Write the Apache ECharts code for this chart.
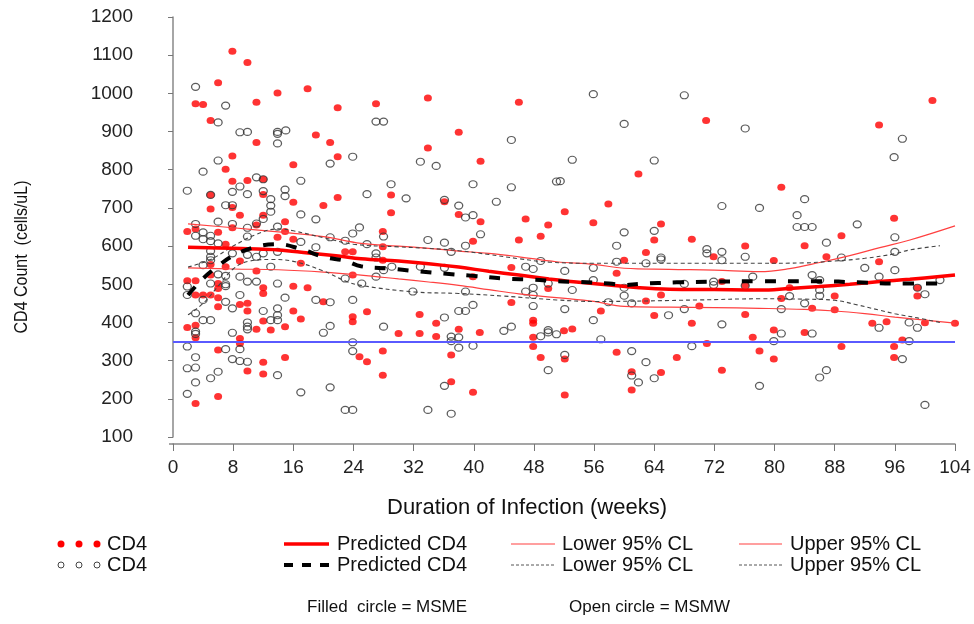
<!DOCTYPE html>
<html>
<head>
<meta charset="utf-8">
<script src="https://cdn.jsdelivr.net/npm/echarts@6/dist/echarts.min.js"></script>
<style>
html, body { margin: 0; padding: 0; background: #fff; }
#chart { width: 974px; height: 624px; }
</style>
</head>
<body>
<div id="chart"></div>
<script>
var xTicks = [0, 8, 16, 24, 32, 40, 48, 56, 64, 72, 80, 88, 96, 104];
var yTicks = [100, 200, 300, 400, 500, 600, 700, 800, 900, 1000, 1100, 1200];
var cutoff = 350;

// filled circles: MSME [week, CD4]
var msmePoints = [
    [7.9,1110],[9.9,1081],[6.0,1028],[13.9,1001],[17.9,1012],[3.0,973],[4.0,971],[11.1,977],[21.9,962],[5.0,929],
    [11.1,871],[19.0,891],[20.9,871],[21.9,834],[7.9,836],[7.0,801],[16.0,813],[7.9,770],[9.9,772],[12.0,775],
    [5.0,734],[12.0,735],[16.0,715],[21.9,727],[5.0,697],[7.9,701],[8.9,681],[12.0,681],[20.0,706],[14.9,664],[11.1,655],
    [1.9,638],[3.0,645],[6.0,636],[7.9,648],[14.9,638],[13.9,623],[16.0,618],[7.0,605],[8.9,561],[5.0,552],[7.0,546],
    [11.1,535],[17.0,555],[22.9,585],[23.9,585],[23.9,524],[1.9,509],[3.0,509],[5.0,524],[6.0,502],[6.0,489],[12.0,491],
    [12.0,476],[16.0,495],[17.9,491],[3.0,472],[4.0,472],[5.0,472],[6.0,465],[6.0,441],[8.9,447],[9.9,450],[9.9,430],
    [20.0,454],[16.0,430],[17.0,409],[23.9,415],[23.9,402],[12.0,404],[1.9,387],[3.0,393],[3.0,360],[11.1,382],[13.0,380],
    [14.9,389],[8.9,358],[8.9,345],[6.0,328],[14.9,308],[12.0,296],[9.9,273],[12.0,265],[6.0,206],[3.0,188],
    [27.0,973],[33.9,988],[46.0,977],[38.0,898],[33.9,857],[40.9,822],[29.0,734],[29.0,687],[36.1,716],[38.0,683],
    [40.9,664],[46.9,671],[49.9,655],
    [27.9,638],[27.9,598],[27.9,563],[39.9,613],[46.0,616],[48.9,626],[45.0,544],[39.9,520],[49.9,489],[45.0,452],
    [25.8,428],[32.8,421],[35.0,398],[38.0,382],[40.8,374],[32.8,371],[30.0,371],[35.0,363],[47.9,406],[47.9,398],
    [47.9,361],[47.9,337],[48.9,308],[24.8,310],[25.8,297],[27.9,325],[27.9,262],[37.0,315],[37.0,245],[39.9,217],
    [70.9,929],[61.9,789],[57.9,710],[52.1,690],[55.9,661],[64.9,658],
    [64.0,616],[69.0,618],[76.1,600],[62.9,583],[60.0,563],[71.9,572],[59.0,529],[64.9,472],[62.9,456],[70.0,443],
    [56.9,430],[64.0,418],[76.1,421],[69.0,398],[52.0,378],[53.1,383],[77.1,361],[71.0,345],[78.0,325],[52.1,304],
    [59.0,322],[67.0,308],[64.9,269],[61.0,271],[61.0,223],[73.0,275],[52.1,210],[76.1,498],[73.0,507],
    [101.0,981],[93.9,917],[80.9,754],[95.9,673],
    [88.9,627],[84.0,601],[86.9,572],[79.9,562],[93.9,559],[82.0,491],[80.9,463],[88.0,469],[85.0,437],[88.0,433],
    [99.0,469],[99.0,491],[93.0,398],[94.9,402],[100.0,399],[104.0,398],[79.9,380],[84.0,374],[97.0,354],[95.9,337],
    [88.9,337],[79.9,304],[95.9,308]
];

// open circles: MSMW [week, CD4]
var msmwPoints = [
    [3.0,1017],[7.0,968],[6.0,924],[8.9,898],[9.9,899],[13.9,899],[13.9,894],[15.0,903],[13.9,869],[6.0,824],
    [4.0,795],[20.9,816],[23.9,834],[11.1,780],[12.0,775],[17.0,771],[1.9,745],[5.0,734],[7.9,742],[8.9,756],
    [9.9,736],[12.0,744],[14.9,748],[14.9,731],[13.0,723],[13.0,706],[13.0,690],[7.0,707],[7.9,707],[17.0,683],
    [19.0,670],[3.0,658],[6.0,664],[7.9,658],[11.1,659],[12.0,671],[9.9,648],[13.9,651],[24.8,649],
    [3.0,627],[4.0,636],[4.0,618],[5.0,627],[5.0,613],[6.0,607],[9.9,625],[17.0,611],[20.9,623],[19.0,597],
    [22.9,614],[23.9,633],[5.0,587],[5.0,572],[5.0,563],[7.9,581],[9.9,577],[11.1,572],[12.0,581],[13.9,585],
    [4.0,550],[6.0,526],[7.0,522],[8.9,520],[13.0,546],[5.0,502],[7.0,495],[7.0,500],[9.9,507],[11.1,507],
    [13.9,502],[1.9,494],[1.9,472],[8.9,472],[4.0,459],[7.0,454],[7.9,437],[14.9,465],[19.0,459],[20.9,453],
    [22.9,515],[23.9,459],[3.0,424],[4.0,406],[5.0,406],[9.9,400],[9.9,389],[9.9,382],[12.0,430],[13.0,406],
    [13.9,437],[13.9,419],[13.9,406],[20.9,391],[20.0,373],[3.0,376],[3.0,370],[7.9,373],[1.9,337],[23.9,348],
    [23.9,325],[7.0,330],[8.9,330],[3.0,309],[1.9,280],[3.0,282],[7.9,304],[8.9,299],[9.9,297],[6.0,271],
    [5.0,254],[3.0,243],[13.9,262],[20.9,230],[17.0,217],[1.9,213],[22.9,171],[23.9,171],
    [27.0,926],[28.0,926],[45.0,878],[32.9,821],[35.0,810],[29.0,762],[25.8,736],[31.0,725],[36.1,721],[39.9,762],
    [45.0,754],[51.0,769],[38.0,706],[38.9,675],[39.9,681],[43.0,716],
    [25.8,605],[27.0,581],[27.0,570],[28.0,625],[28.0,537],[27.0,520],[29.1,546],[25.1,502],[33.9,616],[36.1,609],
    [37.0,585],[38.9,601],[40.9,631],[32.9,546],[36.1,543],[31.9,481],[38.9,481],[39.9,446],[38.0,430],[38.9,430],
    [36.1,413],[28.0,389],[37.0,363],[37.0,351],[38.0,361],[38.0,334],[39.9,339],[44.0,378],[45.0,389],[46.9,546],
    [47.9,540],[47.9,491],[47.9,472],[46.9,481],[48.9,561],[49.9,502],[47.9,443],[48.9,364],[49.9,380],[49.9,374],
    [51.0,369],[49.9,275],[36.1,234],[33.9,171],[37.0,161],
    [55.9,998],[68.0,995],[60.0,920],[76.1,908],[53.1,826],[64.0,824],[73.0,705],[78.0,700],[51.5,770],
    [60.0,636],[64.0,640],[59.0,601],[71.0,592],[71.0,581],[73.0,585],[73.0,563],[76.1,572],[64.9,570],[64.9,565],
    [62.9,555],[59.0,559],[55.9,543],[52.1,535],[55.9,511],[68.0,501],[71.9,507],[71.9,498],[77.1,520],[76.1,496],
    [53.1,485],[60.0,491],[60.0,470],[57.9,453],[61.0,450],[52.1,435],[65.9,419],[68.0,435],[73.0,395],[55.9,406],
    [56.9,356],[69.0,338],[52.1,315],[61.0,325],[62.9,296],[61.0,261],[61.9,243],[64.0,254],[78.0,234],
    [97.0,881],[95.9,833],[84.0,723],[83.0,681],[91.0,657],[83.0,650],[84.0,650],[85.0,650],
    [96.0,623],[86.9,609],[96.0,585],[88.9,570],[92.0,543],[96.0,537],[85.0,524],[93.9,520],[86.0,511],[86.0,485],
    [86.0,470],[82.0,469],[84.0,450],[80.9,435],[99.0,491],[100.0,474],[102.0,511],[97.9,400],[99.0,386],[93.9,386],
    [80.9,371],[85.0,371],[79.9,351],[97.9,351],[97.0,304],[86.9,275],[86.0,256],[100.0,184]
];

// fitted curves
var msmePred = [[2,597],[6,595],[10,593],[14,590],[18,582],[22,574],[25,567],[30,561],[34,554],[38,545],[42,534],
    [46,524],[50,514],[54,505],[58,498],[62,491],[66,487],[72,486],[78,485],[82,489],[86,494],[90,500],[94,507],[98,513],[104,524]];
var msmeUpper = [[2,658],[8,648],[14,637],[20,625],[25,607],[30,600],[34,594],[38,587],[42,581],[46,572],[51,559],
    [56,552],[60,542],[66,539],[72,537],[78,533],[82,541],[86,557],[90,575],[94,596],[98,616],[104,653]];
var msmeLower = [[2,543],[8,540],[14,538],[20,532],[25,524],[30,514],[34,506],[38,497],[42,486],[46,475],[51,465],
    [56,455],[60,442],[66,440],[72,439],[78,437],[84,434],[88,430],[92,423],[96,414],[100,406],[104,398]];
var msmwPred = [[2,472],[4,515],[6,548],[8,575],[11,598],[14,605],[17,592],[20,572],[23,561],[25,547],[29,541],
    [32,535],[36,528],[40,522],[44,515],[48,512],[51,508],[54,506],[58,502],[60,498],[62,501],[67,505],[72,507],
    [78,508],[86,508],[91,505],[96,502],[102,502]];
var msmwUpper = [[2,545],[5,565],[8,600],[11,630],[14,645],[16,640],[20,622],[24,605],[30,598],[34,594],[38,588],
    [42,578],[46,567],[50,558],[56,555],[70,555],[78,555],[84,556],[88,561],[92,568],[96,580],[98,590],[102,601]];
var msmwLower = [[2,420],[4,450],[6,495],[8,540],[10,560],[13,565],[16,560],[20,535],[23,508],[25,497],[32,480],
    [38,476],[44,469],[51,459],[56,455],[70,459],[78,462],[84,461],[88,458],[91,446],[94,432],[96,423],[99,412],[102,400]];

var FONT = "Liberation Sans, Arial, sans-serif";
var chart = echarts.init(document.getElementById("chart"));

function curve(data, color, width, dash) {
    return {
        type: "line",
        data: data,
        smooth: 0.4,
        showSymbol: false,
        silent: true,
        lineStyle: { color: color, width: width, type: dash || "solid" },
        z: 5
    };
}

var L1 = 544, L2 = 565;
function legText(x, y, txt, size) {
    return { type: "text", style: { text: txt, x: x, y: y, font: (size || 20) + "px " + FONT, fill: "#111",
        textAlign: "left", textVerticalAlign: "middle", verticalAlign: "middle" } };
}
function legLine(x1, x2, y, color, w, dash) {
    return { type: "line", shape: { x1: x1, y1: y, x2: x2, y2: y },
        style: { stroke: color, lineWidth: w, lineDash: dash || null } };
}
function plain(v) { return String(v); }

chart.setOption({
    animation: false,
    grid: { left: 173, right: 19, top: 17, bottom: 187 },
    xAxis: {
        type: "value",
        min: xTicks[0],
        max: xTicks[xTicks.length - 1],
        interval: 8,
        offset: 7,
        axisLine: { show: true, lineStyle: { color: "#888", width: 1.5 } },
        axisTick: { show: true, length: 7, lineStyle: { color: "#777" } },
        axisLabel: { fontSize: 19, fontFamily: FONT, color: "#222", margin: 14, formatter: plain },
        splitLine: { show: false }
    },
    yAxis: {
        type: "value",
        min: yTicks[0],
        max: yTicks[yTicks.length - 1],
        interval: 100,
        offset: 3,
        axisLine: { show: true, lineStyle: { color: "#888", width: 1.5 } },
        axisTick: { show: true, length: 5, lineStyle: { color: "#777" } },
        axisLabel: { fontSize: 19, fontFamily: FONT, color: "#222", margin: 37, formatter: plain },
        splitLine: { show: false }
    },
    series: [
        {
            type: "scatter",
            data: msmePoints,
            symbol: "circle",
            symbolSize: [8, 7],
            itemStyle: { color: "#ff0000" },
            z: 2
        },
        {
            type: "scatter",
            data: msmwPoints,
            symbol: "circle",
            symbolSize: [8, 7],
            itemStyle: { color: "rgba(0,0,0,0)", borderColor: "#333", borderWidth: 1.2 },
            z: 3,
            markLine: {
                silent: true,
                symbol: "none",
                label: { show: false },
                lineStyle: { color: "#5a5aff", width: 2, type: "solid" },
                data: [{ yAxis: cutoff }]
            }
        },
        curve(msmeUpper, "#ff4040", 1.2),
        curve(msmeLower, "#ff4040", 1.2),
        curve(msmwUpper, "#444", 1.1, [4, 3]),
        curve(msmwLower, "#444", 1.1, [4, 3]),
        curve(msmePred, "#ff0000", 3.5),
        curve(msmwPred, "#000", 4, [11, 12])
    ],
    graphic: [
        { type: "text", rotation: Math.PI / 2, x: 22, y: 257, scaleY: 1.2,
          style: { text: "CD4 Count  (cells/uL)", font: "16px " + FONT, fill: "#111",
                   textAlign: "center", textVerticalAlign: "middle", verticalAlign: "middle" } },
        { type: "text", x: 527, y: 508,
          style: { text: "Duration of Infection (weeks)", font: "22px " + FONT, fill: "#111",
                   textAlign: "center", textVerticalAlign: "middle", verticalAlign: "middle" } },
        { type: "line", shape: { x1: 169, y1: 444, x2: 174, y2: 444 }, style: { stroke: "#888", lineWidth: 1.5 } },

        { type: "circle", shape: { cx: 61, cy: L1, r: 3.5 }, style: { fill: "#ff0000" } },
        { type: "circle", shape: { cx: 79, cy: L1, r: 3.5 }, style: { fill: "#ff0000" } },
        { type: "circle", shape: { cx: 97, cy: L1, r: 3.5 }, style: { fill: "#ff0000" } },
        legText(107, L1, "CD4"),
        { type: "circle", shape: { cx: 61, cy: L2, r: 3 }, style: { fill: "none", stroke: "#444", lineWidth: 1 } },
        { type: "circle", shape: { cx: 79, cy: L2, r: 3 }, style: { fill: "none", stroke: "#444", lineWidth: 1 } },
        { type: "circle", shape: { cx: 97, cy: L2, r: 3 }, style: { fill: "none", stroke: "#444", lineWidth: 1 } },
        legText(107, L2, "CD4"),

        legLine(284, 329, L1, "#ff0000", 3.5),
        legText(337, L1, "Predicted CD4"),
        legLine(284, 329, L2, "#000", 4, [9, 9]),
        legText(337, L2, "Predicted CD4"),

        legLine(511, 555, L1, "#ff4040", 1.2),
        legText(562, L1, "Lower 95% CL"),
        legLine(511, 555, L2, "#555", 1, [3, 2]),
        legText(562, L2, "Lower 95% CL"),

        legLine(739, 782, L1, "#ff4040", 1.2),
        legText(790, L1, "Upper 95% CL"),
        legLine(739, 782, L2, "#555", 1, [3, 2]),
        legText(790, L2, "Upper 95% CL"),

        legText(307, 607, "Filled  circle = MSME", 17),
        legText(569, 607, "Open circle = MSMW", 17)
    ]
});
</script>
</body>
</html>
